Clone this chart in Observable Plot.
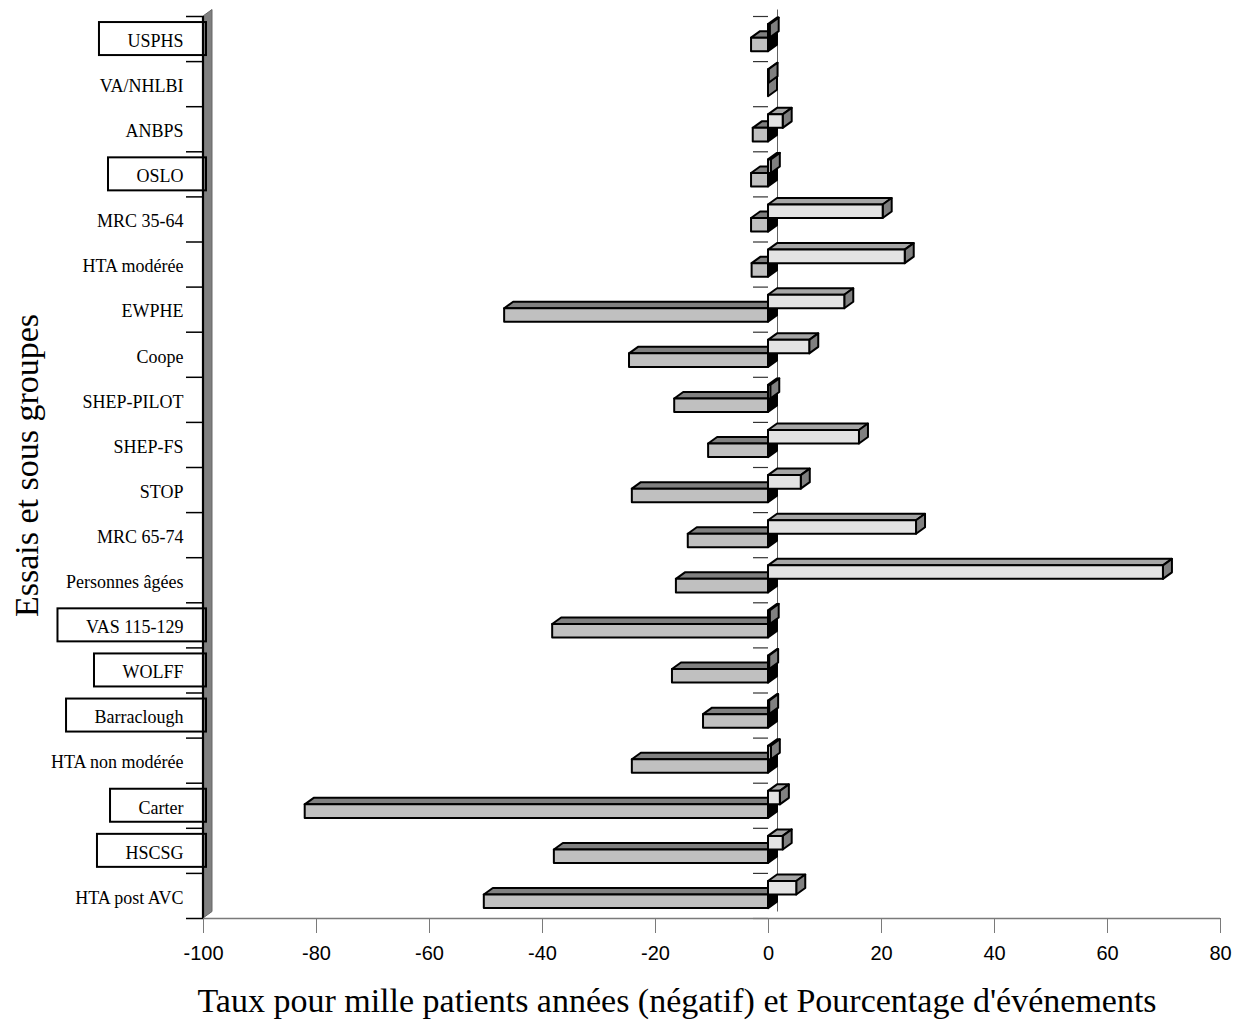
<!DOCTYPE html>
<html>
<head>
<meta charset="utf-8">
<script src="https://cdn.jsdelivr.net/npm/d3@7"></script>
<script src="https://cdn.jsdelivr.net/npm/@observablehq/plot@0.6"></script>
<style>
  html, body { margin: 0; padding: 0; background: #fff; }
  svg { display: block; }
</style>
</head>
<body>
<div id="chart"></div>
<script>
// ---- Data ----
const categories = [
  "USPHS", "VA/NHLBI", "ANBPS", "OSLO", "MRC 35-64", "HTA modérée", "EWPHE", "Coope",
  "SHEP-PILOT", "SHEP-FS", "STOP", "MRC 65-74", "Personnes âgées", "VAS 115-129",
  "WOLFF", "Barraclough", "HTA non modérée", "Carter", "HSCSG", "HTA post AVC"
];
// Taux pour mille patients années (négatif)
const negValues = [
  -3.0, 0, -2.7, -3.0, -3.0, -2.9, -46.7, -24.6,
  -16.6, -10.6, -24.1, -14.2, -16.3, -38.2,
  -17.0, -11.5, -24.1, -82.0, -37.9, -50.3
];
// Pourcentage d'événements
const posValues = [
  0.3, 0.1, 2.6, 0.5, 20.3, 24.2, 13.5, 7.3,
  0.4, 16.1, 5.8, 26.2, 69.9, 0.3,
  0.2, 0.2, 0.5, 2.1, 2.6, 5.0
];
const boxedCategories = ["USPHS", "OSLO", "VAS 115-129", "WOLFF", "Barraclough", "Carter", "HSCSG"];
const xTicks = [-100, -80, -60, -40, -20, 0, 20, 40, 60, 80];
const xTitle = "Taux pour mille patients années (négatif) et Pourcentage d'événements";
const yTitle = "Essais et sous groupes";

// ---- Style constants ----
const DX = 9, DY = -6.5;      // 3D depth offset (px)
const BAR = 0.3;              // bar thickness (band units)
const SHIFT = -0.02;          // pair center shift in band
const serif = "'Liberation Serif', 'Times New Roman', serif";
const sans = "'Liberation Sans', Arial, sans-serif";

// ---- Build drawing rows (bottom categories first so upper bars overlap lower ones) ----
const rows = [];
for (let i = categories.length - 1; i >= 0; --i) {
  rows.push({cat: categories[i], i, series: "neg", value: negValues[i]});
  rows.push({cat: categories[i], i, series: "pos", value: posValues[i]});
}
const boundaries = d3.range(categories.length + 1);
const centers = categories.map((c, i) => i + 0.5);
const boxed = boxedCategories.map(c => categories.indexOf(c));

const ctx = document.createElement("canvas").getContext("2d");
ctx.font = `18px ${serif}`;

function bars3d(index, scales, values) {
  const {x1: X1, x2: X2, y1: Y1, y2: Y2} = values;
  const g = d3.create("svg:g")
    .attr("stroke", "black").attr("stroke-width", 2).attr("stroke-linejoin", "round");
  for (const k of index) {
    const xl = Math.min(X1[k], X2[k]), xr = Math.max(X1[k], X2[k]);
    const yt = Math.min(Y1[k], Y2[k]), yb = Math.max(Y1[k], Y2[k]);
    const neg = rows[k].value < 0;
    g.append("path")
      .attr("d", `M${xl},${yt}L${xr},${yt}L${xr + DX},${yt + DY}L${xl + DX},${yt + DY}Z`)
      .attr("fill", neg ? "#808080" : "#a6a6a6");
    g.append("path")
      .attr("d", `M${xr},${yt}L${xr + DX},${yt + DY}L${xr + DX},${yb + DY}L${xr},${yb}Z`)
      .attr("fill", neg ? "#000000" : "#808080");
    g.append("rect")
      .attr("x", xl).attr("y", yt).attr("width", xr - xl).attr("height", yb - yt)
      .attr("fill", neg ? "#c0c0c0" : "#e3e3e3");
  }
  return g.node();
}

function wall(index, scales, values) {
  const {x: X, y1: Y1, y2: Y2} = values;
  const g = d3.create("svg:g");
  for (const k of index) {
    const x = X[k], yt = Y1[k], yb = Y2[k];
    g.append("path")
      .attr("d", `M${x},${yt}L${x + DX},${yt + DY}L${x + DX},${yb + DY}L${x},${yb}Z`)
      .attr("fill", "#808080").attr("stroke", "#666").attr("stroke-width", 1);
    g.append("line")
      .attr("x1", x).attr("x2", x).attr("y1", yt).attr("y2", yb)
      .attr("stroke", "black").attr("stroke-width", 2.2);
  }
  return g.node();
}

function labelBoxes(index, scales, values) {
  const {x1: X1, y1: Y1, y2: Y2} = values;
  const g = d3.create("svg:g").attr("fill", "none").attr("stroke", "black").attr("stroke-width", 2);
  for (const k of index) {
    const w = ctx.measureText(categories[boxed[k]]).width;
    const right = X1[k] + 3;
    const left = X1[k] - 20 - w - 28;
    const yt = Math.min(Y1[k], Y2[k]), yb = Math.max(Y1[k], Y2[k]);
    g.append("rect").attr("x", left).attr("y", yt).attr("width", right - left).attr("height", yb - yt);
  }
  return g.node();
}

const chart = Plot.plot({
  width: 1250,
  height: 1023,
  marginTop: 16,
  marginBottom: 105,
  marginLeft: 203,
  marginRight: 30,
  style: {fontFamily: serif, fontSize: "18px", background: "white", color: "black", overflow: "visible"},
  x: {domain: [-100, 80], axis: null},
  y: {domain: [0, categories.length], reverse: true, axis: null},
  marks: [
    // left wall (floor of the 3D chart)
    Plot.ruleX([-100], {x: d => d, y1: () => 0, y2: () => categories.length, render: wall}),
    // back-plane zero line
    Plot.ruleX([0], {x: d => d, y1: () => 0, y2: () => categories.length, dx: DX, dy: DY, stroke: "#606060", strokeWidth: 1}),
    // category ticks at the zero axis
    Plot.ruleY(boundaries, {y: d => d, x1: () => 0, x2: () => 0, insetLeft: -15, stroke: "#333", strokeWidth: 1.2}),
    // 3D bars
    Plot.rect(rows, {
      x1: () => 0,
      x2: d => d.value,
      y1: d => d.i + 0.5 + SHIFT + (d.series === "pos" ? -BAR : 0),
      y2: d => d.i + 0.5 + SHIFT + (d.series === "pos" ? 0 : BAR),
      render: bars3d
    }),
    // x axis line
    Plot.ruleY([categories.length], {y: d => d, x1: () => -100, x2: () => 80, stroke: "#7a7a7a", strokeWidth: 1.5}),
    // x ticks and labels
    Plot.axisX(xTicks, {anchor: "bottom", tickSize: 15, tickPadding: 12, stroke: "#7a7a7a", fill: "black",
      fontFamily: sans, fontSize: 20, tickFormat: d => String(d)}),
    // category ticks at the wall
    Plot.ruleY(boundaries, {y: d => d, x1: () => -100, x2: () => -100, insetLeft: -17, stroke: "black", strokeWidth: 1.5}),
    // category labels
    Plot.axisY(centers, {anchor: "left", tickSize: 0, tickPadding: 20, dy: 2,
      tickFormat: d => categories[Math.floor(d)], fontFamily: serif, fontSize: 18, fill: "black"}),
    // boxes around some labels
    Plot.rect(boxed, {x1: () => -100, x2: () => -100, y1: d => d + 0.5 - 0.366, y2: d => d + 0.5 + 0.366, render: labelBoxes}),
    // titles
    Plot.text([xTitle], {text: d => d, frameAnchor: "bottom", textAnchor: "middle", dx: -35, dy: 93, fontSize: 34, fontFamily: serif, fill: "black"}),
    Plot.text([yTitle], {text: d => d, frameAnchor: "left", textAnchor: "middle", dx: -176, dy: -2, rotate: -90, fontSize: 34, fontFamily: serif, fill: "black"})
  ]
});
document.getElementById("chart").append(chart);
</script>
</body>
</html>
